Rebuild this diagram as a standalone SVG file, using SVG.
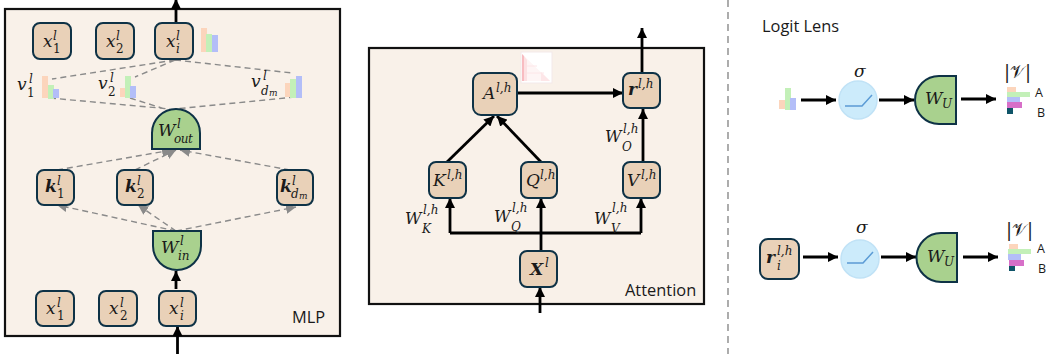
<svg xmlns="http://www.w3.org/2000/svg" width="1050" height="360" viewBox="0 0 1050 360">
<style>
.panel{fill:#F9F1E9;stroke:#111;stroke-width:2.200}
.n{fill:#E9D1B8;stroke:#0E3246;stroke-width:2}
.g{fill:#A9D18E;stroke:#0E3246;stroke-width:2}
.c{fill:#CCEBFB;stroke:#C0E2F6;stroke-width:1.500}
.relu{fill:none;stroke:#5B9BD5;stroke-width:1.500}
.o{fill:#FCD5BC}.gr{fill:#C3F0B8}.b{fill:#B3BEF8}.p{fill:#D76FC8}.t{fill:#0F5468}
text{fill:#1a1a1a}
.m{font-family:"DejaVu Serif","Liberation Serif",serif;font-style:italic;font-size:17px}
.e{font-size:16px}
.bd{font-weight:bold}
.nb{font-weight:normal}
.s{font-size:12px}
.ss{font-size:9px}
.u{font-style:normal}
.l{font-family:"Open Sans","Liberation Sans",sans-serif;font-size:16.400px}
.la{font-family:"Open Sans","Liberation Sans",sans-serif;font-size:12.500px}
.k{fill:none;stroke:#000;stroke-width:2.800}
.d{fill:none;stroke:#8a8a8a;stroke-width:1.400;stroke-dasharray:6 4}
</style>
<defs>
<marker id="ak" markerUnits="userSpaceOnUse" viewBox="0 0 10 10" refX="10" refY="5" markerWidth="10" markerHeight="10" orient="auto"><path d="M0 0L10 5L0 10Z" fill="#000"/></marker>
<marker id="ag" markerUnits="userSpaceOnUse" viewBox="0 0 10 10" refX="10" refY="5" markerWidth="10" markerHeight="10" orient="auto"><path d="M0 0L10 5L0 10Z" fill="#8a8a8a"/></marker>
</defs>

<g id="mlp-panel"><rect class="panel" x="5" y="9" width="335" height="327"/><text class="l" x="292" y="323">MLP</text></g>
<g id="attention-panel"><rect class="panel" x="369" y="48" width="335" height="256"/><text class="l" x="625" y="296">Attention</text></g>

<g id="connectors">
<path class="d" d="M175 60L52 79M175 60L135 77M175 60L292 73M50 98L170 109M130 98L165 109M295 97L175 109"/>
<path class="d" marker-end="url(#ag)" d="M57 170L172 150"/>
<path class="d" marker-end="url(#ag)" d="M135 170L176 150"/>
<path class="d" marker-end="url(#ag)" d="M290 170L180 150"/>
<path class="d" marker-end="url(#ag)" d="M176 231L57 205"/>
<path class="d" marker-end="url(#ag)" d="M176 231L138 205"/>
<path class="d" marker-end="url(#ag)" d="M176 231L296 207"/>
<path class="k" marker-end="url(#ak)" d="M176 23V-1"/>
<path class="k" marker-end="url(#ak)" d="M176 289V271"/>
<path class="k" marker-end="url(#ak)" d="M177.500 354V326"/>
<path class="k" marker-end="url(#ak)" d="M517 93H623"/>
<path class="k" marker-end="url(#ak)" d="M447 162L494 116"/>
<path class="k" marker-end="url(#ak)" d="M541 162L497 116"/>
<path class="k" marker-end="url(#ak)" d="M643 162V109"/>
<path class="k" marker-end="url(#ak)" d="M642 73V28"/>
<path class="k" marker-end="url(#ak)" d="M450 233V198"/>
<path class="k" marker-end="url(#ak)" d="M541 251V198"/>
<path class="k" marker-end="url(#ak)" d="M641 233V198"/>
<path class="k" d="M450 233H641"/>
<path class="k" marker-end="url(#ak)" d="M540 313V287"/>
<path class="k" marker-end="url(#ak)" d="M801 100H836"/>
<path class="k" marker-end="url(#ak)" d="M879 100H914"/>
<path class="k" marker-end="url(#ak)" d="M961 99H996"/>
<path class="k" marker-end="url(#ak)" d="M803 257H838"/>
<path class="k" marker-end="url(#ak)" d="M881 257H916"/>
<path class="k" marker-end="url(#ak)" d="M963 257H998"/>
</g>

<g id="x1-top"><rect class="n" x="33" y="23" width="38" height="36" rx="7"/><text class="m" x="43" y="47">x<tspan class="s" x="53" y="40">l</tspan><tspan class="s u" x="53" y="53">1</tspan></text></g>
<g id="x2-top"><rect class="n" x="96" y="23" width="38" height="36" rx="7"/><text class="m" x="106" y="47">x<tspan class="s" x="116" y="40">l</tspan><tspan class="s u" x="116" y="53">2</tspan></text></g>
<g id="xi-top"><rect class="n" x="155" y="23" width="38" height="36" rx="7"/><text class="m" x="166" y="47">x<tspan class="s" x="176" y="40">l</tspan><tspan class="s" x="176" y="53">i</tspan></text></g>
<g id="xi-bars"><rect class="o" x="201" y="28" width="6" height="24"/><rect class="gr" x="206" y="34" width="6" height="18"/><rect class="b" x="212" y="35" width="6" height="17"/></g>

<g id="v1"><text class="m" x="17" y="90">v<tspan class="s" x="29" y="83">l</tspan><tspan class="s u" x="27" y="97">1</tspan></text><rect class="o" x="42" y="76" width="6" height="22"/><rect class="gr" x="48" y="85" width="6" height="14"/><rect class="b" x="53" y="89" width="6" height="9"/></g>
<g id="v2"><text class="m" x="98" y="89">v<tspan class="s" x="110" y="82">l</tspan><tspan class="s u" x="108" y="96">2</tspan></text><rect class="o" x="120" y="88" width="5" height="9"/><rect class="gr" x="125" y="76" width="6" height="22"/><rect class="b" x="130" y="86" width="6" height="12"/></g>
<g id="vdm"><text class="m" x="251" y="87">v<tspan class="s" x="263" y="80">l</tspan><tspan class="s" x="261" y="95">d</tspan><tspan class="s ss" x="269" y="96">m</tspan></text><rect class="o" x="285" y="83" width="5" height="14"/><rect class="gr" x="290" y="79" width="6" height="19"/><rect class="b" x="296" y="76" width="6" height="22"/></g>

<g id="w-out"><path class="g" d="M152 149V133A24 24 0 0 1 200 133V149Z"/><text class="m" x="158" y="136">W<tspan class="s" x="177" y="128">l</tspan><tspan class="s" x="174" y="143" style="letter-spacing:-.5px">out</tspan></text></g>
<g id="k1"><rect class="n" x="37" y="170" width="37" height="35" rx="7"/><text class="m bd" x="45" y="192">k<tspan class="s nb" x="57" y="185">l</tspan><tspan class="s u nb" x="57" y="198">1</tspan></text></g>
<g id="k2"><rect class="n" x="117" y="170" width="36" height="35" rx="7"/><text class="m bd" x="125" y="192">k<tspan class="s nb" x="137" y="185">l</tspan><tspan class="s u nb" x="137" y="198">2</tspan></text></g>
<g id="k3"><rect class="n" x="277" y="170" width="36" height="35" rx="7"/><text class="m bd" x="280" y="192">k<tspan class="s nb" x="292" y="185">l</tspan><tspan class="s nb" x="291" y="198">d</tspan><tspan class="s ss nb" x="299" y="199">m</tspan></text></g>
<g id="w-in"><path class="g" d="M153 231H201V246A24 24 0 0 1 153 246Z"/><text class="m" x="161" y="253">W<tspan class="s" x="180" y="245">l</tspan><tspan class="s" x="178" y="260">in</tspan></text></g>
<g id="x1-bottom"><rect class="n" x="36" y="291" width="38" height="35" rx="7"/><text class="m" x="46" y="314">x<tspan class="s" x="57" y="307">l</tspan><tspan class="s u" x="57" y="320">1</tspan></text></g>
<g id="x2-bottom"><rect class="n" x="99" y="291" width="38" height="35" rx="7"/><text class="m" x="109" y="314">x<tspan class="s" x="120" y="307">l</tspan><tspan class="s u" x="120" y="320">2</tspan></text></g>
<g id="xi-bottom"><rect class="n" x="159" y="291" width="37" height="35" rx="7"/><text class="m" x="169" y="314">x<tspan class="s" x="180" y="307">l</tspan><tspan class="s" x="180" y="320">i</tspan></text></g>

<g id="heatmap"><rect x="521" y="52" width="31" height="31" fill="#fff" stroke="#f3e9ea"/><path d="M522 54L550 81H522Z" fill="#FEF5F5"/><path d="M522 54L524 56V81H522Z" fill="#F8BCC1"/><path d="M524 56L527 60V81H524Z" fill="#FCE1E3"/><path d="M541 72L550 81H541Z" fill="#FDE6E8"/><path d="M527 66H537M527 73H544" stroke="#FDE6E8" stroke-width="1" fill="none"/></g>
<g id="a"><rect class="n" x="473" y="73" width="44" height="42" rx="8"/><text class="m" x="483" y="99">A<tspan class="s" x="496" y="92">l,h</tspan></text></g>
<g id="r"><rect class="n" x="623" y="73" width="37" height="35" rx="7"/><text class="m bd" x="628" y="95">r<tspan class="s nb" x="638" y="88">l,h</tspan></text></g>
<g id="k"><rect class="n" x="429" y="162" width="37" height="36" rx="7"/><text class="m" x="433" y="186">K<tspan class="s" x="447" y="179">l,h</tspan></text></g>
<g id="q"><rect class="n" x="521" y="162" width="36" height="36" rx="7"/><text class="m" x="526" y="186">Q<tspan class="s" x="540" y="179">l,h</tspan></text></g>
<g id="v"><rect class="n" x="623" y="162" width="37" height="36" rx="7"/><text class="m" x="627" y="186">V<tspan class="s" x="641" y="179">l,h</tspan></text></g>
<g id="x"><rect class="n" x="520" y="251" width="37" height="36" rx="7"/><text class="m bd" x="530" y="275">X<tspan class="s nb" x="545" y="267">l</tspan></text></g>
<g id="edge-labels">
<text class="m e" x="405" y="224">W<tspan class="s" x="423" y="214">l,h</tspan><tspan class="s" x="422" y="233">K</tspan></text>
<text class="m e" x="494" y="222">W<tspan class="s" x="512" y="212">l,h</tspan><tspan class="s" x="511" y="231">Q</tspan></text>
<text class="m e" x="594" y="224">W<tspan class="s" x="612" y="212">l,h</tspan><tspan class="s" x="611" y="233">V</tspan></text>
<text class="m e" x="605" y="142">W<tspan class="s" x="623" y="133">l,h</tspan><tspan class="s" x="622" y="151">O</tspan></text>
</g>

<path id="divider" d="M728 0V354" fill="none" stroke="#8a8a8a" stroke-width="1.400" stroke-dasharray="7 5"/>
<text class="l" x="762" y="32">Logit Lens</text>

<g id="lens1-input"><rect class="o" x="779" y="100" width="6" height="9"/><rect class="gr" x="785" y="88" width="6" height="22"/><rect class="b" x="790" y="98" width="6" height="12"/></g>
<g id="lens1-sigma"><circle class="c" cx="858" cy="100" r="19"/><path class="relu" d="M845 106H862L872 95"/><text class="m" x="854" y="77">σ</text></g>
<g id="lens1-wu"><path class="g" d="M956 76V124H939A24 24 0 0 1 939 76Z"/><text class="m" x="925" y="104">W<tspan class="s" x="942" y="108">U</tspan></text></g>
<g id="lens1-output"><text class="m u" x="1004" y="78" style="font-size:18px;font-weight:normal">|𝒱|</text><rect class="o" x="1007" y="87" width="9" height="5"/><rect class="gr" x="1007" y="92" width="23" height="5"/><rect class="b" x="1007" y="97" width="13" height="5"/><rect class="p" x="1007" y="102" width="15" height="6"/><rect class="t" x="1007" y="108" width="6" height="6"/><text class="la" x="1035" y="97">A</text><text class="la" x="1037" y="117">B</text></g>

<g id="lens2-input"><rect class="n" x="760" y="239" width="39" height="40" rx="8"/><text class="m bd" x="766" y="263">r<tspan class="s nb" x="777" y="255">l,h</tspan><tspan class="s nb" x="777" y="270">i</tspan></text></g>
<g id="lens2-sigma"><circle class="c" cx="860" cy="259" r="19"/><path class="relu" d="M847 263H863L873 252"/><text class="m" x="856" y="233">σ</text></g>
<g id="lens2-wu"><path class="g" d="M957 233V282H941A24.500 24.500 0 0 1 941 233Z"/><text class="m" x="927" y="262">W<tspan class="s" x="944" y="266">U</tspan></text></g>
<g id="lens2-output"><text class="m u" x="1006" y="236" style="font-size:18px;font-weight:normal">|𝒱|</text><rect class="o" x="1009" y="244" width="9" height="5"/><rect class="gr" x="1008" y="249" width="23" height="5"/><rect class="b" x="1008" y="254" width="13" height="6"/><rect class="p" x="1009" y="260" width="15" height="6"/><rect class="t" x="1009" y="266" width="6" height="5"/><text class="la" x="1037" y="253">A</text><text class="la" x="1038" y="273">B</text></g>
</svg>
